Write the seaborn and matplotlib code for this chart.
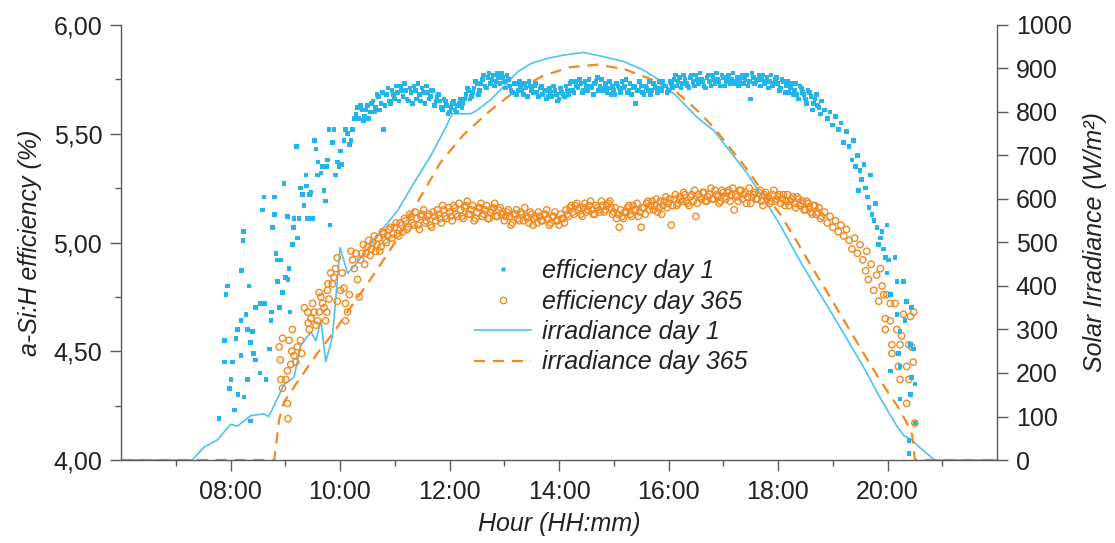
import matplotlib
matplotlib.use("Agg")
import matplotlib.pyplot as plt
import matplotlib.ticker as mticker
from matplotlib.lines import Line2D
import seaborn as sns
import pandas as pd

# ---------------- data (hours as decimal, efficiency in %, irradiance W/m2) ----------------
irr1_hour = [6.00, 7.30, 7.52, 7.76, 8.00, 8.13, 8.37, 8.61, 8.70, 8.86, 8.98, 9.16, 9.28, 9.38,
             9.47, 9.56, 9.65, 9.74, 9.86, 9.93, 10.00, 10.14, 10.26, 10.50, 10.74, 11.05, 11.35,
             11.66, 11.90, 12.05, 12.39, 12.50, 12.75, 13.00, 13.24, 13.48, 13.78, 14.09, 14.45,
             14.82, 15.18, 15.55, 15.80, 16.15, 16.52, 16.83, 17.43, 17.80, 18.04, 18.35, 18.65,
             18.96, 19.26, 19.56, 19.87, 20.17, 20.30, 20.44, 20.65, 20.86, 22.00]
irr1_val = [0, 0, 30, 46, 82, 78, 102, 106, 100, 142, 174, 190, 262, 280,
            294, 274, 322, 226, 282, 382, 488, 429, 445, 485, 525, 573, 637,
            700, 757, 796, 796, 804, 828, 860, 892, 911, 923, 931, 937,
            927, 916, 896, 876, 836, 788, 757, 660, 589, 540, 469, 405,
            342, 278, 214, 142, 78, 56, 46, 22, 0, 0]

irr365_hour = [6.00, 8.80, 8.89, 8.98, 9.28, 9.59, 9.89, 10.14, 10.50, 10.80, 11.05, 11.47,
               11.84, 12.26, 12.75, 13.24, 13.72, 14.21, 14.70, 15.18, 15.67, 16.16, 16.52,
               16.83, 17.43, 17.74, 18.04, 18.35, 18.65, 18.96, 19.26, 19.56, 19.87, 20.17,
               20.35, 20.45, 20.50, 22.00]
irr365_val = [0, 0, 94, 134, 190, 246, 294, 341, 405, 461, 509, 605,
              685, 748, 804, 852, 884, 903, 909, 899, 876, 844, 804,
              764, 669, 613, 565, 501, 437, 373, 309, 246, 182, 126,
              86, 58, 0, 0]

eff1_hour = [
    7.79, 7.89, 7.92, 7.95, 7.89, 7.98, 8.01, 8.04, 8.07, 8.10, 8.13, 8.14, 8.19, 8.19, 8.20,
    8.23, 8.24, 8.25, 8.28, 8.31, 8.31, 8.34, 8.36, 8.37, 8.40, 8.42, 8.46, 8.46, 8.54, 8.55,
    8.58, 8.61, 8.63, 8.65, 8.71, 8.74, 8.75, 8.77, 8.80, 8.80, 8.83, 8.86, 8.86, 8.90, 8.92,
    8.95, 8.98, 9.01, 9.04, 9.05, 9.07, 9.09, 9.13, 9.15, 9.16, 9.21, 9.22, 9.25, 9.28, 9.31,
    9.34, 9.38, 9.39, 9.41, 9.44, 9.47, 9.50, 9.53, 9.56, 9.59, 9.60, 9.65, 9.68, 9.71, 9.73,
    9.76, 9.77, 9.80, 9.82, 9.86, 9.89, 9.92, 9.95, 9.98, 10.01, 10.04, 10.07, 10.10, 10.14,
    10.17, 10.20, 10.23, 10.26, 10.29, 10.32,
    10.35, 10.40, 10.45, 10.50, 10.55, 10.60, 10.65, 10.70, 10.75, 10.80, 10.85, 10.90, 10.95,
    11.00, 11.05, 11.10, 11.15, 11.20, 11.25, 11.30, 11.35, 11.40, 11.45, 11.50, 11.55, 11.60,
    11.65, 11.70, 11.75, 11.80, 11.85, 11.90, 11.95, 12.00, 12.05, 12.10, 12.15, 12.20, 12.25,
    12.30, 12.35, 12.40, 12.45, 12.50, 12.55, 12.60, 12.65, 12.70, 12.75, 12.80, 12.85, 12.90,
    12.95, 13.00, 13.05, 13.10, 13.15, 13.20, 13.25, 13.30, 13.35, 13.40, 13.45, 13.50, 13.55,
    13.60, 13.65, 13.70, 13.75, 13.80, 13.85, 13.90, 13.95, 14.00, 14.05, 14.10, 14.15, 14.20,
    14.25, 14.30, 14.35, 14.40, 14.45, 14.50, 14.55, 14.60, 14.65, 14.70, 14.75, 14.80, 14.85,
    14.90, 14.95, 15.00, 15.05, 15.10, 15.15, 15.20, 15.25, 15.30, 15.35, 15.40, 15.45, 15.50,
    15.55, 15.60, 15.65, 15.70, 15.75, 15.80, 15.85, 15.90, 15.95, 16.00, 16.05, 16.10, 16.15,
    16.20, 16.25, 16.30, 16.35, 16.40, 16.45, 16.50, 16.55, 16.60, 16.65, 16.70, 16.75, 16.80,
    16.85, 16.90, 16.95, 17.00, 17.05, 17.10, 17.15, 17.20, 17.25, 17.30, 17.35, 17.40, 17.45,
    17.50, 17.55, 17.60, 17.65, 17.70, 17.75, 17.80, 17.85, 17.90, 17.95, 18.00, 18.05, 18.10,
    18.15, 18.20, 18.25, 18.30, 18.35, 18.40, 18.45, 18.50, 18.55, 18.60, 18.65, 18.70, 18.75,
    18.80,
    18.85, 18.90, 18.95, 19.00, 19.05, 19.10, 19.15, 19.20, 19.25, 19.30, 19.35, 19.38, 19.41,
    19.45, 19.47, 19.50, 19.53, 19.57, 19.60, 19.63, 19.66, 19.69, 19.72, 19.75, 19.78, 19.81,
    19.84, 19.87, 19.90, 19.93, 19.96, 19.99, 19.99, 20.02, 20.05, 20.05, 20.14, 20.17, 20.17,
    20.20, 20.23, 20.23, 20.23, 20.29, 20.32, 20.35, 20.39, 20.39, 20.42, 20.42, 20.44, 20.44,
    20.48, 20.50, 20.50]
eff1_val = [
    4.19, 4.55, 4.76, 4.80, 4.45, 4.33, 4.37, 4.45, 4.23, 4.56, 4.60, 4.30, 4.64, 4.48, 4.87,
    5.01, 5.05, 4.29, 4.67, 4.37, 4.60, 4.80, 4.54, 4.18, 4.59, 4.49, 4.70, 4.46, 4.40, 4.72,
    5.15, 5.21, 4.72, 4.37, 4.51, 4.64, 4.68, 5.07, 5.21, 5.13, 4.95, 4.92, 4.82, 4.70, 4.92,
    4.77, 5.27, 4.84, 5.12, 4.83, 4.88, 4.68, 4.99, 5.07, 5.11, 5.44, 5.02, 5.11, 5.25, 5.22,
    5.17, 5.31, 5.26, 5.11, 5.22, 5.23, 5.11, 5.47, 5.43, 5.31, 5.37, 5.32, 5.35, 5.24, 5.19,
    5.35, 5.38, 5.52, 5.08, 5.46, 5.52, 5.31, 5.37, 5.35, 5.42, 5.36, 5.47, 5.52, 5.50,
    5.45, 5.47, 5.52, 5.57, 5.59, 5.62,
    5.57, 5.61, 5.58, 5.63, 5.60, 5.65, 5.62, 5.67, 5.64, 5.52, 5.68, 5.65, 5.70,
    5.66, 5.69, 5.72, 5.67, 5.70, 5.65, 5.69, 5.72, 5.66, 5.68, 5.71, 5.64, 5.69,
    5.67, 5.70, 5.65, 5.68, 5.62, 5.66, 5.63, 5.60, 5.64, 5.61, 5.63, 5.66, 5.64,
    5.68, 5.70, 5.67, 5.71, 5.73, 5.70, 5.75, 5.72, 5.76, 5.73, 5.77, 5.74, 5.76,
    5.78, 5.74, 5.77, 5.72, 5.69, 5.73, 5.70, 5.72, 5.68, 5.71, 5.74, 5.70, 5.72,
    5.69, 5.71, 5.68, 5.70, 5.67, 5.69, 5.72, 5.68, 5.66, 5.69, 5.67, 5.70, 5.73,
    5.70, 5.74, 5.71, 5.73, 5.70, 5.72, 5.75, 5.71, 5.73, 5.76, 5.72, 5.70, 5.73,
    5.71, 5.68, 5.70, 5.73, 5.71, 5.74, 5.72, 5.69, 5.73, 5.71, 5.64, 5.70, 5.72,
    5.68, 5.71, 5.74, 5.70, 5.72, 5.69, 5.71, 5.74, 5.72, 5.70, 5.73, 5.75, 5.72,
    5.76, 5.73, 5.75, 5.72, 5.76, 5.74, 5.77, 5.73, 5.75, 5.72, 5.76, 5.74, 5.77,
    5.73, 5.75, 5.72, 5.76, 5.74, 5.77, 5.75, 5.73, 5.76, 5.74, 5.77, 5.75, 5.72,
    5.66, 5.76, 5.74, 5.77, 5.75, 5.73, 5.76, 5.74, 5.72, 5.75, 5.73, 5.71, 5.74,
    5.72, 5.69, 5.73, 5.70, 5.68, 5.72, 5.69, 5.66, 5.70, 5.67, 5.64, 5.68, 5.62,
    5.65,
    5.61, 5.57, 5.60, 5.54, 5.58, 5.52, 5.55, 5.46, 5.51, 5.44, 5.38, 5.47, 5.35,
    5.40, 5.24, 5.33, 5.29, 5.36, 5.25, 5.21, 5.16, 5.31, 5.13, 5.10, 5.18, 5.07,
    4.99, 5.02, 5.05, 4.97, 4.93, 5.08, 4.86, 4.92, 4.76, 4.41, 4.93, 4.82, 4.67,
    4.49, 4.59, 4.43, 4.28, 4.82, 4.64, 4.73, 4.09, 4.03, 4.53, 4.30, 4.70, 4.38,
    4.51, 4.35, 4.17]

# second sample of the dense daytime band (interleaved readings)
band2_hour = [
    10.375, 10.425, 10.475, 10.525, 10.575, 10.625, 10.675, 10.725, 10.775, 10.825, 10.875, 10.925, 10.975,
    11.025, 11.075, 11.125, 11.175, 11.225, 11.275, 11.325, 11.375, 11.425, 11.475,
    11.525, 11.575, 11.625, 11.675, 11.725, 11.775, 11.825, 11.875, 11.925, 11.975,
    12.025, 12.075, 12.125, 12.175, 12.225, 12.275, 12.325, 12.375, 12.425, 12.475,
    12.525, 12.575, 12.625, 12.675, 12.725, 12.775, 12.825, 12.875, 12.925, 12.975,
    13.025, 13.075, 13.125, 13.175, 13.225, 13.275, 13.325, 13.375, 13.425, 13.475,
    13.525, 13.575, 13.625, 13.675, 13.725, 13.775, 13.825, 13.875, 13.925, 13.975,
    14.025, 14.075, 14.125, 14.175, 14.225, 14.275, 14.325, 14.375, 14.425, 14.475,
    14.525, 14.575, 14.625, 14.675, 14.725, 14.775, 14.825, 14.875, 14.925, 14.975,
    15.025, 15.075, 15.125, 15.175, 15.225, 15.275, 15.325, 15.375, 15.425, 15.475,
    15.525, 15.575, 15.625, 15.675, 15.725, 15.775, 15.825, 15.875, 15.925, 15.975,
    16.025, 16.075, 16.125, 16.175, 16.225, 16.275, 16.325, 16.375, 16.425, 16.475,
    16.525, 16.575, 16.625, 16.675, 16.725, 16.775, 16.825, 16.875, 16.925, 16.975,
    17.025, 17.075, 17.125, 17.175, 17.225, 17.275, 17.325, 17.375, 17.425, 17.475,
    17.525, 17.575, 17.625, 17.675, 17.725, 17.775, 17.825, 17.875, 17.925, 17.975,
    18.025, 18.075, 18.125, 18.175, 18.225, 18.275, 18.325, 18.375,
    18.425, 18.475, 18.525, 18.575, 18.625, 18.675, 18.725, 18.775]
eff1_band2 = [
    5.63, 5.56, 5.61, 5.57, 5.64, 5.60, 5.68, 5.61, 5.69, 5.63, 5.71, 5.64, 5.68,
    5.72, 5.65, 5.70, 5.73, 5.66, 5.71, 5.64, 5.70, 5.73, 5.65,
    5.69, 5.72, 5.66, 5.70, 5.63, 5.67, 5.65, 5.61, 5.65, 5.59,
    5.62, 5.65, 5.60, 5.64, 5.62, 5.66, 5.71, 5.66, 5.69, 5.74,
    5.68, 5.73, 5.77, 5.71, 5.78, 5.75, 5.72, 5.78, 5.73, 5.76,
    5.71, 5.75, 5.70, 5.73, 5.68, 5.74, 5.70, 5.73, 5.67, 5.72,
    5.69, 5.73, 5.67, 5.72, 5.70, 5.66, 5.71, 5.67, 5.70, 5.65,
    5.71, 5.68, 5.72, 5.68, 5.74, 5.69, 5.72, 5.75, 5.69, 5.74,
    5.70, 5.72, 5.68, 5.74, 5.70, 5.75, 5.71, 5.69, 5.74, 5.72,
    5.68, 5.72, 5.69, 5.71, 5.75, 5.70, 5.68, 5.72, 5.70, 5.74,
    5.69, 5.72, 5.70, 5.68, 5.73, 5.71, 5.74, 5.70, 5.72, 5.69,
    5.74, 5.71, 5.77, 5.74, 5.71, 5.77, 5.73, 5.71, 5.77, 5.72,
    5.75, 5.78, 5.74, 5.71, 5.77, 5.72, 5.75, 5.78, 5.74, 5.77,
    5.72, 5.75, 5.73, 5.78, 5.74, 5.72, 5.76, 5.73, 5.77, 5.74,
    5.78, 5.73, 5.75, 5.72, 5.77, 5.74, 5.71, 5.77, 5.73, 5.76,
    5.70, 5.75, 5.69, 5.74, 5.71, 5.68, 5.73, 5.66,
    5.71, 5.68, 5.64, 5.69, 5.61, 5.66, 5.63, 5.59]
eff365_band2 = [
    4.92, 4.99, 4.95, 5.01, 4.97, 5.03, 4.99, 4.96, 5.05, 5.01, 5.03, 5.07, 5.04,
    5.09, 5.03, 5.08, 5.11, 5.06, 5.13, 5.09, 5.14, 5.08, 5.12,
    5.15, 5.10, 5.13, 5.07, 5.12, 5.15, 5.11, 5.17, 5.12, 5.16,
    5.12, 5.17, 5.13, 5.18, 5.12, 5.16, 5.19, 5.13, 5.17, 5.11,
    5.16, 5.18, 5.13, 5.17, 5.11, 5.15, 5.18, 5.12, 5.16, 5.14,
    5.12, 5.15, 5.08, 5.13, 5.15, 5.10, 5.13, 5.16, 5.11, 5.14,
    5.08, 5.12, 5.14, 5.10, 5.13, 5.15, 5.08, 5.12, 5.14, 5.10,
    5.13, 5.11, 5.15, 5.12, 5.17, 5.13, 5.18, 5.16, 5.12, 5.18,
    5.15, 5.19, 5.13, 5.17, 5.15, 5.19, 5.14, 5.17, 5.19, 5.13,
    5.16, 5.13, 5.15, 5.11, 5.14, 5.17, 5.12, 5.15, 5.18, 5.14,
    5.16, 5.13, 5.19, 5.17, 5.15, 5.20, 5.16, 5.13, 5.19, 5.16,
    5.20, 5.17, 5.22, 5.18, 5.20, 5.23, 5.19, 5.17, 5.22, 5.24,
    5.18, 5.21, 5.23, 5.19, 5.21, 5.25, 5.20, 5.22, 5.18, 5.24,
    5.21, 5.23, 5.19, 5.25, 5.22, 5.19, 5.24, 5.22, 5.18, 5.25,
    5.21, 5.23, 5.20, 5.24, 5.17, 5.23, 5.21, 5.19, 5.24, 5.20,
    5.22, 5.20, 5.17, 5.22, 5.19, 5.21, 5.16, 5.20,
    5.18, 5.15, 5.19, 5.16, 5.13, 5.17, 5.14, 5.11]

eff365_hour = [
    8.89, 8.91, 8.92, 8.95, 8.95, 9.01, 9.04, 9.05, 9.04, 9.07, 9.10, 9.12, 9.13, 9.16, 9.19,
    9.22, 9.28, 9.30, 9.35, 9.41, 9.42, 9.44, 9.47, 9.50, 9.53, 9.56, 9.59, 9.62, 9.62, 9.65,
    9.68, 9.71, 9.74, 9.76, 9.77, 9.78, 9.80, 9.83, 9.86, 9.89, 9.92, 9.95, 9.95, 10.01, 10.04,
    10.07, 10.10, 10.10, 10.14, 10.17, 10.20, 10.23, 10.26, 10.29, 10.32, 10.35,
    10.40, 10.45, 10.50, 10.55, 10.60, 10.65, 10.70, 10.75, 10.80, 10.85, 10.90, 10.95, 11.00,
    11.05, 11.10, 11.15, 11.20, 11.25, 11.30, 11.35, 11.40, 11.45, 11.50, 11.55, 11.60, 11.65,
    11.70, 11.75, 11.80, 11.85, 11.90, 11.95, 12.00, 12.05, 12.10, 12.15, 12.20, 12.25, 12.30,
    12.35, 12.40, 12.45, 12.50, 12.55, 12.60, 12.65, 12.70, 12.75, 12.80, 12.85, 12.90, 12.95,
    13.00, 13.05, 13.10, 13.15, 13.20, 13.25, 13.30, 13.35, 13.40, 13.45, 13.50, 13.55, 13.60,
    13.65, 13.70, 13.75, 13.80, 13.85, 13.90, 13.95, 14.00, 14.05, 14.10, 14.15, 14.20, 14.25,
    14.30, 14.35, 14.40, 14.45, 14.50, 14.55, 14.60, 14.65, 14.70, 14.75, 14.80, 14.85, 14.90,
    14.95, 15.00, 15.05, 15.10, 15.15, 15.20, 15.25, 15.30, 15.35, 15.40, 15.45, 15.50, 15.55,
    15.60, 15.65, 15.70, 15.75, 15.80, 15.85, 15.90, 15.95, 16.00, 16.05, 16.10, 16.15, 16.20,
    16.25, 16.30, 16.35, 16.40, 16.45, 16.50, 16.55, 16.60, 16.65, 16.70, 16.75, 16.80, 16.85,
    16.90, 16.95, 17.00, 17.05, 17.10, 17.15, 17.20, 17.25, 17.30, 17.35, 17.40, 17.45, 17.50,
    17.55, 17.60, 17.65, 17.70, 17.75, 17.80, 17.85, 17.90, 17.95, 18.00, 18.05, 18.10, 18.15,
    18.20, 18.25, 18.30, 18.35, 18.40, 18.45, 18.50, 18.55, 18.60, 18.65, 18.70, 18.75, 18.80,
    18.85, 18.90, 18.95, 19.00, 19.05, 19.10, 19.15, 19.20, 19.25, 19.30, 19.35, 19.40, 19.45,
    19.50, 19.55, 19.60, 19.62, 19.65, 19.70, 19.75, 19.80, 19.84, 19.87, 19.90, 19.93, 19.96,
    19.96, 19.99, 20.05, 20.05, 20.08, 20.08, 20.14, 20.17, 20.20, 20.23, 20.23, 20.26, 20.29,
    20.35, 20.35, 20.39, 20.39, 20.42, 20.44, 20.47, 20.48, 20.50]
eff365_val = [
    4.52, 4.46, 4.37, 4.33, 4.56, 4.37, 4.41, 4.19, 4.26, 4.55, 4.44, 4.50, 4.60, 4.48, 4.45,
    4.52, 4.55, 4.49, 4.70, 4.68, 4.63, 4.60, 4.65, 4.72, 4.68, 4.62, 4.64, 4.77, 4.68, 4.75,
    4.72, 4.70, 4.64, 4.68, 4.78, 4.81, 4.74, 4.86, 4.81, 4.84, 4.88, 4.73, 4.93, 4.78, 4.86,
    4.79, 4.72, 4.64, 4.68, 4.76, 4.96, 4.92, 4.88, 4.95, 4.83, 4.75,
    4.95, 4.90, 4.98, 4.94, 5.00, 4.96, 5.02, 4.98, 5.04, 5.00, 5.06, 5.02, 5.07,
    5.04, 5.09, 5.05, 5.10, 5.07, 5.12, 5.08, 5.11, 5.06, 5.13, 5.09, 5.12, 5.08,
    5.14, 5.10, 5.13, 5.09, 5.15, 5.11, 5.14, 5.10, 5.16, 5.12, 5.15, 5.11, 5.17,
    5.13, 5.15, 5.10, 5.14, 5.16, 5.12, 5.15, 5.11, 5.14, 5.16, 5.12, 5.15, 5.13,
    5.10, 5.14, 5.12, 5.09, 5.13, 5.11, 5.14, 5.10, 5.12, 5.09, 5.13, 5.11, 5.09,
    5.12, 5.10, 5.13, 5.11, 5.09, 5.12, 5.10, 5.08, 5.11, 5.09, 5.13, 5.16, 5.14,
    5.17, 5.15, 5.13, 5.16, 5.14, 5.17, 5.15, 5.13, 5.16, 5.14, 5.17, 5.15, 5.18,
    5.16, 5.14, 5.11, 5.07, 5.12, 5.14, 5.16, 5.13, 5.17, 5.15, 5.12, 5.07, 5.16,
    5.18, 5.15, 5.19, 5.17, 5.14, 5.19, 5.17, 5.21, 5.18, 5.08, 5.20, 5.17, 5.21,
    5.19, 5.22, 5.18, 5.21, 5.19, 5.12, 5.22, 5.20, 5.23, 5.19, 5.22, 5.20, 5.24,
    5.21, 5.19, 5.23, 5.20, 5.24, 5.22, 5.15, 5.21, 5.24, 5.20, 5.23, 5.21, 5.18,
    5.22, 5.20, 5.23, 5.19, 5.22, 5.20, 5.18, 5.22, 5.19, 5.21, 5.18, 5.22, 5.19,
    5.17, 5.20, 5.18, 5.21, 5.17, 5.19, 5.15, 5.18, 5.14, 5.17, 5.13, 5.16, 5.12,
    5.14, 5.09, 5.12, 5.07, 5.10, 5.05, 5.08, 5.03, 5.06, 5.01, 4.97, 5.02, 4.95,
    4.99, 4.92, 4.87, 4.96, 4.83, 4.90, 4.78, 4.85, 4.73, 4.88, 4.80, 4.76, 4.65,
    4.60, 4.76, 4.72, 4.64, 4.53, 4.49, 4.72, 4.60, 4.43, 4.53, 4.37, 4.57, 4.67,
    4.43, 4.26, 4.53, 4.37, 4.66, 4.52, 4.45, 4.68, 4.17]

legend_labels = ["efficiency day 1", "efficiency day 365", "irradiance day 1", "irradiance day 365"]
x_ticks = [8, 10, 12, 14, 16, 18, 20]

# ---------------- styling ----------------
sns.set_theme(style="ticks")
plt.rcParams["font.family"] = ["Liberation Sans", "DejaVu Sans"]
plt.rcParams["font.size"] = 18

BLUE = "#22b4ea"
BLUE_LINE = "#4fc3ee"
ORANGE = "#f2891f"
SPINE = "#5a5a5a"
TEXT = "#222222"

fig = plt.figure(figsize=(11.15, 5.43), dpi=100)
ax = fig.add_axes([121 / 1115, 1 - 460 / 543, (997 - 121) / 1115, (460 - 25) / 543])
ax2 = ax.twinx()

df1 = pd.concat([pd.DataFrame({"hour": eff1_hour, "eff": eff1_val}),
                 pd.DataFrame({"hour": band2_hour, "eff": eff1_band2})], ignore_index=True)
df365 = pd.concat([pd.DataFrame({"hour": eff365_hour, "eff": eff365_val}),
                   pd.DataFrame({"hour": band2_hour, "eff": eff365_band2})], ignore_index=True)
dI1 = pd.DataFrame({"hour": irr1_hour, "irr": irr1_val})
dI365 = pd.DataFrame({"hour": irr365_hour, "irr": irr365_val})

# irradiance lines (right axis)
sns.lineplot(data=dI1, x="hour", y="irr", ax=ax2, color=BLUE_LINE, lw=1.2,
             estimator=None, sort=False, zorder=2)
sns.lineplot(data=dI365, x="hour", y="irr", ax=ax2, color=ORANGE, lw=1.6,
             estimator=None, sort=False, zorder=2)
ax2.lines[-1].set_linestyle((0, (5, 3.5)))

# efficiency scatter (left axis)
sns.scatterplot(data=df365, x="hour", y="eff", ax=ax, marker="o", s=21,
                facecolor="none", edgecolor=ORANGE, linewidth=1.0, zorder=3)
sns.scatterplot(data=df1, x="hour", y="eff", ax=ax, marker="s", s=11,
                color=BLUE, edgecolor="none", linewidth=0, zorder=4)

# put scatter axis on top of line axis
ax.set_zorder(ax2.get_zorder() + 1)
ax.patch.set_visible(False)

ax.set_xlim(6, 22)
ax.set_ylim(4.0, 6.0)
ax2.set_ylim(0, 1000)

ax.xaxis.set_major_locator(mticker.FixedLocator(x_ticks))
ax.xaxis.set_minor_locator(mticker.FixedLocator([7, 9, 11, 13, 15, 17, 19, 21]))
ax.xaxis.set_major_formatter(mticker.FuncFormatter(lambda v, p: f"{int(v):02d}:00"))
ax.yaxis.set_major_locator(mticker.MultipleLocator(0.5))
ax.yaxis.set_minor_locator(mticker.MultipleLocator(0.25))
ax.yaxis.set_major_formatter(mticker.FuncFormatter(lambda v, p: f"{v:.2f}".replace(".", ",")))
ax2.yaxis.set_major_locator(mticker.MultipleLocator(100))

for a in (ax, ax2):
    for s in a.spines.values():
        s.set_color(SPINE)
        s.set_linewidth(1.0)
    a.spines["top"].set_visible(False)
    a.tick_params(which="major", length=8, width=1.0, color=SPINE, labelsize=18,
                  labelcolor=TEXT, pad=5.5)
    a.tick_params(which="minor", length=4, width=1.0, color=SPINE)
ax.tick_params(axis="x", which="major", pad=6.5)
ax.spines["right"].set_visible(False)
ax2.spines["left"].set_visible(False)
ax2.spines["bottom"].set_visible(False)

ax.set_xlabel("Hour (HH:mm)", fontsize=18, style="italic", color=TEXT, labelpad=6)
ax.set_ylabel("a-Si:H efficiency (%)", fontsize=18, style="italic", color=TEXT, labelpad=8)
ax2.set_ylabel("Solar Irradiance (W/m²)", fontsize=18, style="italic", color=TEXT, labelpad=8)

handles = [
    Line2D([], [], ls="none", marker="s", ms=3.3, color=BLUE, mec="none"),
    Line2D([], [], ls="none", marker="o", ms=4.6, mfc="none", mec=ORANGE, mew=1.0),
    Line2D([], [], color=BLUE_LINE, lw=1.2),
    Line2D([], [], color=ORANGE, lw=1.6, ls=(0, (5, 3.5))),
]
leg = ax.legend(handles, legend_labels, loc="upper left",
                bbox_to_anchor=(474 / 1115, 1 - 259 / 543), bbox_transform=fig.transFigure,
                frameon=False, fontsize=18, handlelength=2.3, handletextpad=0.4,
                labelspacing=0.26, borderpad=0, borderaxespad=0)
for t in leg.get_texts():
    t.set_fontstyle("italic")
    t.set_color(TEXT)

fig.savefig("out.png", dpi=100)
